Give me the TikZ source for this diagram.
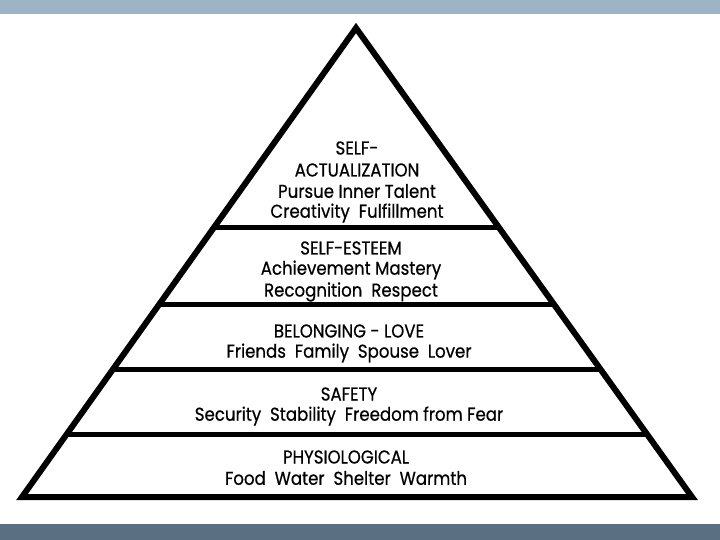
\documentclass[tikz,border=0pt]{standalone}
\usepackage{fontspec}
\usepackage{graphicx}
\setmainfont{Poppins}[FakeBold=0.6]
\usetikzlibrary{calc}
\definecolor{topband}{HTML}{9DB3C6}
\definecolor{botband}{HTML}{5B6F82}
\newcommand{\tallt}[1]{\scalebox{1}[1.12]{#1}}
\begin{document}
\begin{tikzpicture}[x=1pt,y=-1pt,
  lbl/.style={font=\fontsize{16.6}{19}\selectfont, inner sep=0pt, anchor=center},
  edge/.style={line width=6pt, line join=miter, black},
  tier/.style={line width=5pt, black}]
\useasboundingbox (0,0) rectangle (720,540);
\fill[white] (0,0) rectangle (720,540);
\fill[topband] (0,0) rectangle (720,14);
\fill[botband] (0,524) rectangle (720,540);
\coordinate (apex) at (356,28);
\coordinate (bl) at (22,497);
\coordinate (br) at (692,497);
\draw[edge] (apex) -- (bl) -- (br) -- cycle;
\foreach \t/\n in {0.4264/a,0.5906/b,0.7292/c,0.8678/d}{
  \coordinate (l\n) at ($(apex)!\t!(bl)$);
  \coordinate (r\n) at ($(apex)!\t!(br)$);
  \draw[tier] (l\n) -- (r\n);
}
\node[lbl] (t1) at (357,148) {\tallt{SELF-}};
\node[lbl] (t2) at (357,170) {\tallt{ACTUALIZATION}};
\node[lbl] (t3) at (357,191) {\tallt{Pursue Inner Talent}};
\node[lbl] (t4) at (357,213) {\tallt{Creativity\ \ Fulfillment}};
\node[lbl] (s1) at (351,248) {\tallt{SELF-ESTEEM}};
\node[lbl] (s2) at (351,270) {\tallt{Achievement Mastery}};
\node[lbl] (s3) at (351,292) {\tallt{Recognition\ \ Respect}};
\node[lbl] (b1) at (349,331) {\tallt{BELONGING - LOVE}};
\node[lbl] (b2) at (349,353) {\tallt{Friends\ \ Family\ \ Spouse\ \ Lover}};
\node[lbl] (f1) at (349,394) {\tallt{SAFETY}};
\node[lbl] (f2) at (349,416) {\tallt{Security\ \ Stability\ \ Freedom from Fear}};
\node[lbl] (p1) at (346,457) {\tallt{PHYSIOLOGICAL}};
\node[lbl] (p2) at (346,478) {\tallt{Food\ \ Water\ \ Shelter\ \ Warmth}};
\end{tikzpicture}
\end{document}
